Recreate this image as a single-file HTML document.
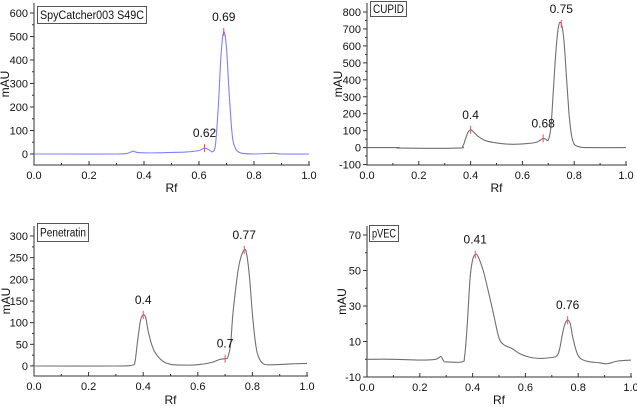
<!DOCTYPE html>
<html><head><meta charset="utf-8"><style>
body{margin:0;background:#fff;}
svg{display:block;font-family:"Liberation Sans",sans-serif;}
</style></head><body>
<svg id="c" width="637" height="407" viewBox="0 0 637 407" xmlns="http://www.w3.org/2000/svg"></svg>
<script>
const spyX=[0,0.1,0.3,0.34,0.36,0.38,0.45,0.5,0.55,0.6,0.62,0.64,0.65,0.66,0.67,0.68,0.69,0.70,0.71,0.72,0.73,0.75,0.8,0.87,0.9,1.0];
const spyY=[0,0,0,3,12,6,5,7,8,15,25,15,10,40,200,420,520,450,250,90,30,5,0,3,0,0];
const cupX=[0,0.12,0.13,0.35,0.37,0.38,0.39,0.40,0.41,0.43,0.46,0.5,0.55,0.6,0.65,0.67,0.68,0.69,0.70,0.71,0.72,0.73,0.74,0.75,0.76,0.77,0.78,0.79,0.8,0.82,0.85,1];
const cupY=[0,0,-3,-3,10,50,90,105,95,65,40,28,20,22,30,45,55,50,45,120,350,580,720,730,640,420,200,70,20,5,0,0];
const penX=[0,0.02,0.3,0.36,0.37,0.38,0.39,0.40,0.41,0.42,0.44,0.47,0.5,0.55,0.6,0.65,0.68,0.70,0.71,0.72,0.73,0.75,0.77,0.78,0.79,0.80,0.81,0.82,0.84,0.88,0.95,1];
const penY=[2,0,0,2,10,60,105,118,110,75,35,12,4,2,3,8,15,17,20,50,130,230,268,255,200,120,60,25,5,3,5,6];
const pveX=[0,0.1,0.2,0.26,0.28,0.29,0.3,0.36,0.37,0.38,0.39,0.40,0.41,0.42,0.44,0.46,0.48,0.5,0.52,0.55,0.58,0.62,0.66,0.7,0.72,0.73,0.74,0.75,0.76,0.77,0.78,0.8,0.83,0.88,0.91,0.95,1];
const pveY=[0,0,-0.5,0,1.5,-1,-1.5,-1.5,2,20,45,56,59,58,50,38,25,12,8,6,3,1,0.5,1,2,6,14,20,22,20,12,2,-1,-2,-2.5,-1,-0.5];
const spyPeaks=[[0.62,25],[0.69,520]];
const cupPeaks=[[0.4,105],[0.68,55],[0.75,730]];
const penPeaks=[[0.4,118],[0.7,17],[0.77,268]];
const pvePeaks=[[0.41,59],[0.76,22]];
const xTicks=[0,0.2,0.4,0.6,0.8,1.0];
const xTickLabels=["0.0","0.2","0.4","0.6","0.8","1.0"];
const spyYTicks=[0,100,200,300,400,500,600];
const cupYTicks=[-100,0,100,200,300,400,500,600,700,800];
const penYTicks=[0,50,100,150,200,250,300];
const pveYTicks=[-10,10,30,50,70];

const svg=document.getElementById('c');
const NS='http://www.w3.org/2000/svg';
function mk(tag,attrs,parent){const e=document.createElementNS(NS,tag);for(const k in attrs)e.setAttribute(k,attrs[k]);(parent||svg).appendChild(e);return e;}
function smooth(pts){
 let d='M'+pts[0][0].toFixed(1)+','+pts[0][1].toFixed(1);
 for(let i=0;i<pts.length-1;i++){
  const p0=pts[Math.max(0,i-1)],p1=pts[i],p2=pts[i+1],p3=pts[Math.min(pts.length-1,i+2)];
  const c1x=p1[0]+(p2[0]-p0[0])/6,c1y=p1[1]+(p2[1]-p0[1])/6;
  const c2x=p2[0]-(p3[0]-p1[0])/6,c2y=p2[1]-(p3[1]-p1[1])/6;
  d+=`C${c1x.toFixed(1)},${c1y.toFixed(1)} ${c2x.toFixed(1)},${c2y.toFixed(1)} ${p2[0].toFixed(1)},${p2[1].toFixed(1)}`;
 }
 return d;
}

const panels=[
 {name:'spycatcher',title:'SpyCatcher003 S49C',xs:spyX,ys:spyY,peaks:spyPeaks,yt:spyYTicks,x0:34,x1:309,yTop:13,vTop:600,yZero:154,yBot:165,axTop:3,color:'#8080ff',box:[37,6,109,17],rfY:192,labX:5},
 {name:'cupid',title:'CUPID',xs:cupX,ys:cupY,peaks:cupPeaks,yt:cupYTicks,x0:367,x1:626,yTop:12,vTop:800,yZero:147.6,yBot:165,axTop:3,color:'#707070',box:[370,1,36,15],rfY:192,labX:338},
 {name:'penetratin',title:'Penetratin',xs:penX,ys:penY,peaks:penPeaks,yt:penYTicks,x0:34,x1:307,yTop:236,vTop:300,yZero:366,yBot:376,axTop:226,color:'#707070',box:[37,223,51,18],rfY:404,labX:6},
 {name:'pvec',title:'pVEC',xs:pveX,ys:pveY,peaks:pvePeaks,yt:pveYTicks,x0:367,x1:631,yTop:235,vTop:70,yZero:279.4,yBot:377,axTop:226,color:'#707070',box:[369,225,29,16],rfY:404,labX:342}
];
panels[3].yZero=235+70*(142/80);

panels.forEach(p=>{
 const g=mk('g',{});
 
 
 const sx=v=>p.x0+v*(p.x1-p.x0);
 const k=(p.yZero-p.yTop)/p.vTop;
 const sy=v=>p.yZero-v*k;
 const ax=mk('path',{d:`M${p.x0},${p.axTop}V${p.yBot}H${p.x1+1}`,stroke:'#333',fill:'none','stroke-width':1},g);
 
 
 for(let i=0;i<=10;i++){const x=sx(i/10);mk('line',{x1:x,x2:x,y1:p.yBot,y2:p.yBot-(i%2?2:4),stroke:'#333'},g);}
 xTicks.forEach((t,i)=>{const tx=mk('text',{x:sx(t),y:p.yBot+14,'text-anchor':'middle','font-size':11,fill:'#111'},g);tx.textContent=xTickLabels[i];
  
  });
 const step=p.yt[1]-p.yt[0];
 for(let v=p.yt[0];v<=p.vTop+0.001;v+=step/2){mk('line',{x1:p.x0,x2:p.x0-((Math.round((v-p.yt[0])/(step/2))%2)?2:4),y1:sy(v),y2:sy(v),stroke:'#333'},g);}
 p.yt.forEach(t=>{const tx=mk('text',{x:p.x0-6,y:sy(t)+4,'text-anchor':'end','font-size':11,fill:'#111'},g);tx.textContent=t;
  
  });
 const rf=mk('text',{x:(p.x0+p.x1)/2,y:p.rfY,'text-anchor':'middle','font-size':12,fill:'#111'},g);rf.textContent='Rf';
 
 
 const ym=(p.axTop+p.yBot)/2;
 const ma=mk('text',{x:p.labX,y:ym,'text-anchor':'middle','font-size':12,fill:'#111',transform:`rotate(-90 ${p.labX} ${ym})`,dy:4},g);ma.textContent='mAU';
 
 
 const pts=p.xs.map((x,i)=>[sx(x),sy(p.ys[i])]);
 const ln=mk('path',{d:smooth(pts),stroke:p.color,fill:'none','stroke-width':1.1,'stroke-linejoin':'round'},g);
 
 
 p.peaks.forEach(pk=>{
  const x=sx(pk[0]),y=sy(pk[1]);
  const m=mk('line',{x1:x,x2:x,y1:y-4,y2:y+4,stroke:'#ff5050','stroke-width':1},g);
  
  
  const t=mk('text',{x:x,y:y-11,'text-anchor':'middle','font-size':12,fill:'#111'},g);t.textContent=String(pk[0]);
  
  
 });
 const b=p.box;
 const r=mk('rect',{x:b[0]+0.5,y:b[1]+0.5,width:b[2],height:b[3],fill:'#fff',stroke:'#555'},g);
 
 
 const tt=mk('text',{x:b[0]+3,y:b[1]+b[3]/2+4.5,'font-size':11.5,fill:'#111',textLength:b[2]-5,lengthAdjust:'spacingAndGlyphs'},g);tt.textContent=p.title;
 
 
});
</script>
</body></html>
